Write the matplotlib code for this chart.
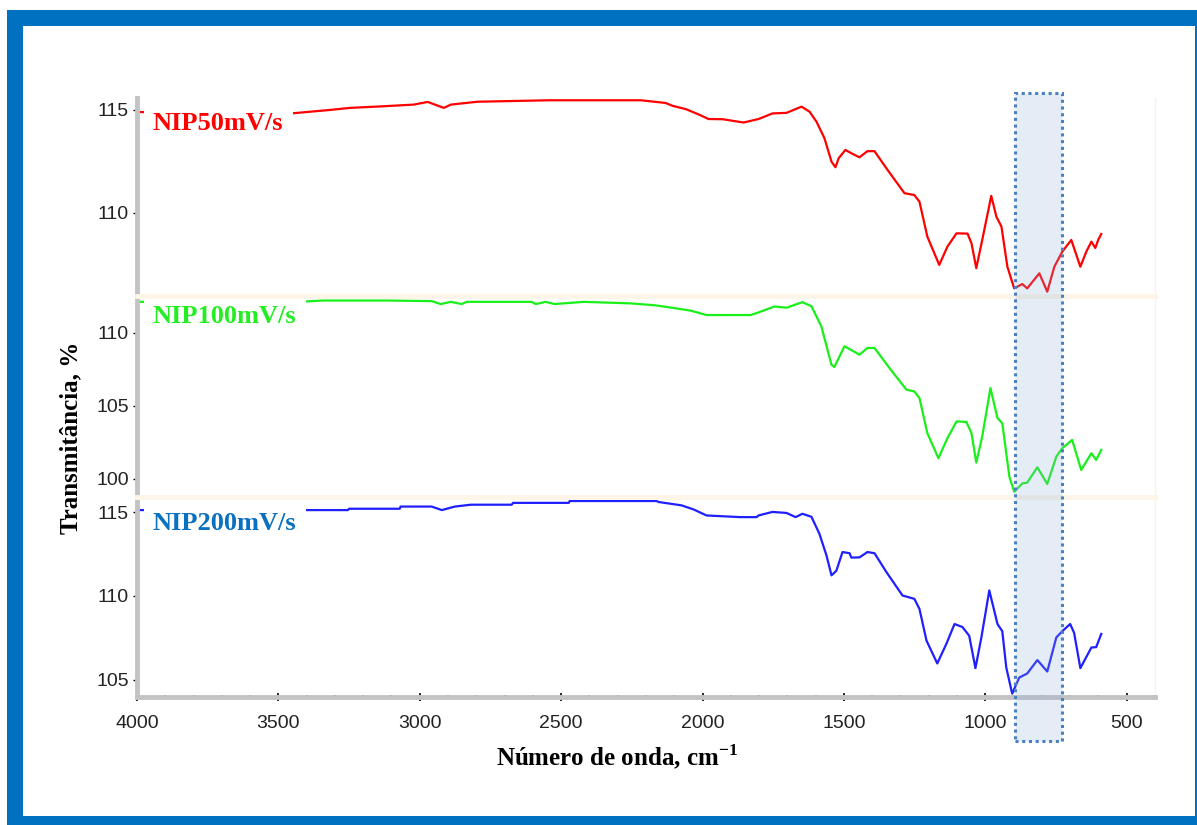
import matplotlib.pyplot as plt
from matplotlib.patches import Rectangle
from matplotlib.ticker import MultipleLocator
from matplotlib import transforms

plt.rcParams['mathtext.fontset'] = 'custom'
plt.rcParams['mathtext.rm'] = 'Liberation Serif'
plt.rcParams['mathtext.bf'] = 'Liberation Serif:bold'

# FTIR spectra (wavenumber in cm-1, transmittance in %)
wn_red = [4000, 3456, 3318, 3247, 3141, 3021, 2972, 2915, 2890, 2795, 2541, 2219, 2131,
          2106, 2057, 2007, 1979, 1929, 1855, 1802, 1753, 1703, 1650, 1622, 1597, 1569,
          1544, 1530, 1519, 1495, 1474, 1445, 1417, 1392, 1350, 1286, 1251, 1233, 1205,
          1163, 1134, 1102, 1063, 1049, 1032, 1011, 979, 961, 943, 922, 898, 869, 852,
          809, 781, 756, 728, 696, 664, 643, 625, 611, 601, 590]
t_red = [114.9, 114.83, 115.0, 115.1, 115.17, 115.26, 115.39, 115.1, 115.26, 115.4, 115.47,
         115.47, 115.34, 115.2, 115.03, 114.74, 114.56, 114.55, 114.39, 114.56, 114.83,
         114.86, 115.16, 114.92, 114.43, 113.63, 112.49, 112.22, 112.65, 113.06, 112.9,
         112.7, 113.0, 113.0, 112.17, 110.96, 110.87, 110.55, 108.85, 107.48, 108.37,
         109.01, 109.0, 108.53, 107.32, 108.69, 110.83, 109.82, 109.34, 107.39, 106.34,
         106.55, 106.34, 107.07, 106.18, 107.39, 108.12, 108.69, 107.39, 108.12, 108.61,
         108.3, 108.69, 108.98]

wn_green = [4000, 3413, 3343, 3117, 2958, 2926, 2890, 2852, 2834, 2604, 2590, 2555, 2523,
            2420, 2258, 2170, 2099, 2042, 1986, 1830, 1802, 1746, 1703, 1647, 1615, 1580,
            1544, 1534, 1498, 1445, 1417, 1392, 1339, 1279, 1251, 1233, 1205, 1166, 1134,
            1102, 1067, 1049, 1032, 1011, 982, 957, 940, 915, 898, 869, 852, 816, 781,
            749, 728, 693, 661, 625, 608, 590]
t_green = [112.1, 112.12, 112.19, 112.19, 112.15, 111.95, 112.1, 111.95, 112.1, 112.1,
           111.95, 112.1, 111.95, 112.1, 112.0, 111.87, 111.67, 111.5, 111.2, 111.2,
           111.38, 111.78, 111.7, 112.08, 111.8, 110.43, 107.8, 107.65, 109.07, 108.49,
           108.95, 108.95, 107.58, 106.1, 105.98, 105.53, 103.13, 101.42, 102.79, 103.93,
           103.9, 103.13, 101.12, 102.9, 106.21, 104.16, 103.8, 100.16, 99.13, 99.7,
           99.75, 100.8, 99.66, 101.53, 102.1, 102.67, 100.62, 101.76, 101.3, 101.99]

wn_blue = [4000, 3420, 3254, 3250, 3071, 3068, 2958, 2922, 2876, 2820, 2675, 2670, 2473,
           2470, 2163, 2155, 2106, 2074, 2032, 1986, 1866, 1809, 1802, 1753, 1703, 1671,
           1647, 1615, 1587, 1562, 1544, 1527, 1505, 1480, 1474, 1445, 1417, 1392, 1350,
           1293, 1251, 1233, 1208, 1170, 1138, 1109, 1081, 1057, 1035, 1014, 986, 957,
           940, 926, 905, 880, 852, 816, 781, 749, 728, 700, 686, 664, 643, 625, 608, 590]
t_blue = [115.12, 115.12, 115.12, 115.2, 115.2, 115.33, 115.33, 115.12, 115.33, 115.44,
          115.44, 115.55, 115.55, 115.66, 115.66, 115.6, 115.48, 115.4, 115.16, 114.8,
          114.7, 114.7, 114.8, 115.01, 114.95, 114.7, 114.9, 114.72, 113.72, 112.43,
          111.23, 111.5, 112.62, 112.55, 112.29, 112.3, 112.62, 112.55, 111.43, 110.03,
          109.83, 109.23, 107.34, 105.98, 107.14, 108.33, 108.15, 107.63, 105.7, 107.53,
          110.33, 108.33, 107.9, 105.74, 104.18, 105.14, 105.38, 106.18, 105.5, 107.53,
          107.9, 108.33, 107.8, 105.7, 106.36, 106.93, 106.95, 107.74]

series = [
    ("NIP50mV/s", wn_red, t_red, "#ff0000", "#ff0000", (105.97, 115.58), [110, 115]),
    ("NIP100mV/s", wn_green, t_green, "#19f019", "#22ee22", (98.77, 112.5), [100, 105, 110]),
    ("NIP200mV/s", wn_blue, t_blue, "#1f1fff", "#0a70c0", (103.98, 115.9), [105, 110, 115]),
]
label_y = [0.87, 0.9, 0.87]

W, H = 1197, 825
fig = plt.figure(figsize=(W / 100, H / 100), dpi=100)

# blue frame around the whole figure
fig.add_artist(Rectangle((7 / W, 0), 1, 1 - 10 / H, transform=fig.transFigure,
                         facecolor="#0070c0", edgecolor="none", zorder=-10))
fig.add_artist(Rectangle((23 / W, 1 - 816 / H), (1195 - 23) / W, (816 - 26) / H,
                         transform=fig.transFigure, facecolor="white",
                         edgecolor="none", zorder=-9))

left = 137 / W
width = (1155 - 137) / W
rows = [(98, 296), (296, 497), (497, 697)]
tick_font = "Liberation Sans"
axes = []
for i, (name, wn, t, lc, tc, ylim, yt) in enumerate(series):
    top, bot = rows[i]
    ax = fig.add_axes([left, 1 - bot / H, width, (bot - top) / H])
    ax.patch.set_alpha(0)
    ax.plot(wn, t, color=lc, lw=1.6, zorder=2)
    ax.set_xlim(4000, 400)
    ax.set_ylim(*ylim)
    ax.set_yticks(yt)
    ax.yaxis.set_minor_locator(MultipleLocator(1))
    ax.xaxis.set_major_locator(MultipleLocator(500))
    ax.xaxis.set_minor_locator(MultipleLocator(100))
    for s in ["left", "right", "top", "bottom"]:
        ax.spines[s].set_visible(False)
        ax.spines[s].set_zorder(5)
    ax.spines["left"].set_visible(True)
    ax.spines["left"].set_color("#c3c3c3")
    ax.spines["left"].set_linewidth(3.5)
    ax.spines["right"].set_visible(True)
    ax.spines["right"].set_color("#fdf3e4")
    ax.spines["right"].set_linewidth(1)
    if i > 0:
        ax.spines["top"].set_visible(True)
        ax.spines["top"].set_color("#fdf5e8")
        ax.spines["top"].set_linewidth(3.5)
    ax.tick_params(axis="y", which="major", direction="out", length=3, width=1,
                   color="black", pad=3, labelsize=14, labelcolor="#222222")
    ax.tick_params(axis="y", which="minor", direction="in", length=1.5, width=1.5,
                   color="black")
    for lab in ax.get_yticklabels():
        lab.set_family(tick_font)
    if i < 2:
        ax.tick_params(axis="x", which="both", bottom=False, labelbottom=False)
    else:
        ax.spines["bottom"].set_visible(True)
        ax.spines["bottom"].set_color("#c3c3c3")
        ax.spines["bottom"].set_linewidth(3.5)
        ax.tick_params(axis="x", which="major", direction="inout", length=6, width=1.2,
                       color="black", pad=10, labelsize=14, labelcolor="#222222")
        ax.tick_params(axis="x", which="minor", direction="in", length=1.5, width=1.5,
                       color="black")
        for lab in ax.get_xticklabels():
            lab.set_family(tick_font)
    ax.text(0.0157, label_y[i], name, transform=ax.transAxes,
            family="Liberation Serif", weight="bold", fontsize=19, color=tc,
            va="center", ha="left", zorder=3,
            bbox=dict(boxstyle="square,pad=0.35", fc="white", ec="none"))
    axes.append(ax)

# highlighted band across all panels
ax = axes[0]
trans = transforms.blended_transform_factory(ax.transData, fig.transFigure)
fig.add_artist(Rectangle((894, 1 - 741 / H), 728 - 894, (741 - 93) / H, transform=trans,
                         facecolor=(0.55, 0.68, 0.85, 0.23), edgecolor="#4a7fc0",
                         lw=2.2, linestyle=(0, (1, 1.2)), zorder=10))

fig.text(71 / W, 1 - 438 / H, "Transmitância, %", rotation=90, ha="center", va="center",
         family="Liberation Serif", weight="bold", fontsize=18)
fig.text(617 / W, 1 - 757 / H, r"Número de onda, cm$^{\mathbf{-1}}$", ha="center",
         va="center", family="Liberation Serif", weight="bold", fontsize=18)

fig.savefig("out.png", dpi=100)
